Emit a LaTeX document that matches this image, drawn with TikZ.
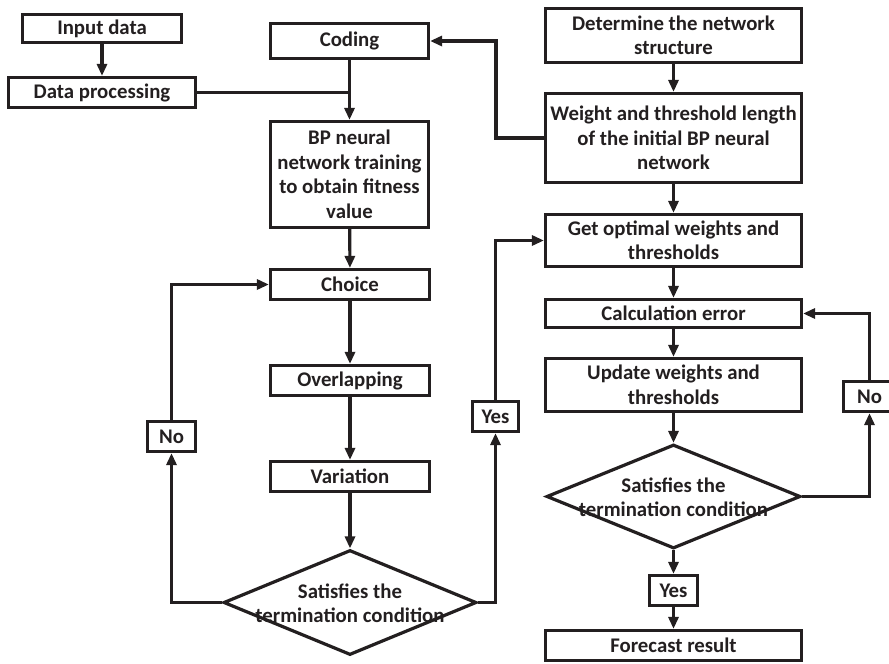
\documentclass[tikz,border=0pt]{standalone}
\usepackage{fontspec}
\setmainfont{Carlito}
\usetikzlibrary{arrows.meta,shapes.geometric,calc}
\definecolor{ink}{HTML}{231F20}
\begin{document}
\begin{tikzpicture}[x=1pt,y=-1pt,
  box/.style={draw=ink,line width=3.2pt,rectangle,inner sep=0pt,align=center,
    font=\fontsize{20.8}{24.5}\selectfont\bfseries,text=ink},
  dia/.style={draw=ink,line width=3.2pt,diamond,inner sep=0pt,aspect=2.42},
  dtext/.style={align=center,font=\fontsize{20.8}{24}\selectfont\bfseries,text=ink,inner sep=0pt},
  arr/.style={draw=ink,line width=3.2pt,-{Triangle[length=12pt,width=10pt]}},
  ln/.style={draw=ink,line width=3.2pt}]
\clip (0,0) rectangle (889,664);
\fill[white] (0,0) rectangle (889,664);

% left column
\node[box,minimum width=159pt,minimum height=28pt] (input) at (102,28.5) {Input data};
\node[box,minimum width=187pt,minimum height=30pt] (dproc) at (102,92.5) {Data processing};
\node[box,minimum width=158pt,minimum height=35pt] (coding) at (349.5,41) {Coding};
\node[box,minimum width=158pt,minimum height=106pt] (bp) at (349.5,174.5) {BP neural\\network training\\to obtain fitness\\value};
\node[box,minimum width=159pt,minimum height=30pt] (choice) at (350,284.5) {Choice};
\node[box,minimum width=159pt,minimum height=30pt] (overlap) at (350,380.5) {Overlapping};
\node[box,minimum width=159pt,minimum height=30pt] (variation) at (350,476.5) {Variation};
\node[dia,minimum width=253pt,minimum height=105pt] (dia1) at (350,602.5) {};
\node[dtext] (dt1) at (350,603) {Satisfies the\\termination condition};
\node[box,minimum width=48pt,minimum height=30pt] (no1) at (171.5,436.5) {No};
\node[box,minimum width=46pt,minimum height=30pt] (yes1) at (495.5,416.5) {Yes};

% right column
\node[box,minimum width=256pt,minimum height=54pt] (determine) at (673.5,35.5) {Determine the network\\structure};
\node[box,minimum width=256pt,minimum height=89pt] (weight) at (673.5,138) {Weight and threshold length\\of the initial BP neural\\network};
\node[box,minimum width=256pt,minimum height=52pt] (getopt) at (673.5,240.5) {Get optimal weights and\\thresholds};
\node[box,minimum width=256pt,minimum height=28pt] (calc) at (673.5,313.5) {Calculation error};
\node[box,minimum width=256pt,minimum height=53pt] (update) at (673.5,385) {Update weights and\\thresholds};
\node[dia,minimum width=254pt,minimum height=104pt] (dia2) at (673.5,496.5) {};
\node[dtext] (dt2) at (673.5,497) {Satisfies the\\termination condition};
\node[box,minimum width=48pt,minimum height=30pt] (yes2) at (673.5,590.5) {Yes};
\node[box,minimum width=256pt,minimum height=30pt] (forecast) at (673.5,645.5) {Forecast result};
\node[box,minimum width=52pt,minimum height=30pt] (no2) at (869.5,396.5) {No};

\coordinate (join) at (349.5,92.5);
\coordinate (bend) at (496,138);

% connectors left
\draw[arr] (input) -- (dproc);
\draw[ln] (dproc.east) -- (join);
\draw[ln] (coding.south) -- (join);
\draw[arr] (join) -- (bp.north);
\draw[arr] (bp) -- (choice);
\draw[arr] (choice) -- (overlap);
\draw[arr] (overlap) -- (variation);
\draw[arr] (variation) -- (dia1.north);
\draw[arr] (dia1.west) -| (no1.south);
\draw[arr] (no1.north) |- (choice.west);
\draw[arr] (dia1.east) -| (yes1.south);
\draw[arr] (yes1.north) |- (getopt.west);

% connectors right
\draw[arr] (determine) -- (weight);
\draw[arr] (weight.west) -- (bend) |- (coding.east);
\draw[arr] (weight) -- (getopt);
\draw[arr] (getopt) -- (calc);
\draw[arr] (calc) -- (update);
\draw[arr] (update) -- (dia2.north);
\draw[arr] (dia2.south) -- (yes2);
\draw[arr] (yes2) -- (forecast);
\draw[arr] (dia2.east) -| (no2.south);
\draw[arr] (no2.north) |- (calc.east);
\end{tikzpicture}
\end{document}
